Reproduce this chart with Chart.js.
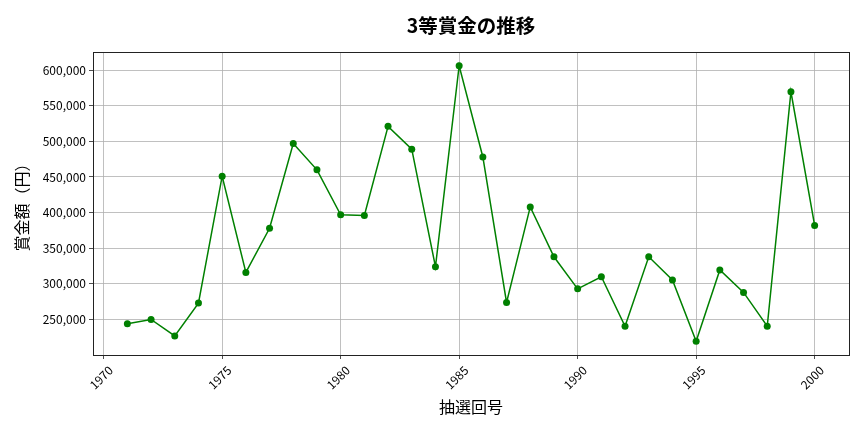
<!DOCTYPE html>
<html>
<head>
<meta charset="utf-8">
<script src="https://cdn.jsdelivr.net/npm/chart.js@4/dist/chart.umd.min.js"></script>
<style>
  html, body { margin: 0; padding: 0; background: #fff; }
  #wrap { width: 864px; height: 432px; }
</style>
</head>
<body>
<div id="wrap"><canvas id="prizeChart" width="864" height="432"></canvas></div>
<script>
// draw numbers (1971-2000) and 3rd prize amounts
const years = [1971, 1972, 1973, 1974, 1975, 1976, 1977, 1978, 1979, 1980,
  1981, 1982, 1983, 1984, 1985, 1986, 1987, 1988, 1989, 1990,
  1991, 1992, 1993, 1994, 1995, 1996, 1997, 1998, 1999, 2000]
const prizes = [244000, 250000, 227000, 273000, 451000, 316000, 378000, 497000, 460000, 397000,
  396000, 521000, 489000, 324000, 606000, 478000, 274000, 408000, 338000, 293000,
  310000, 240500, 338000, 305500, 219500, 319500, 288000, 240500, 569500, 382000]
const xTicks = [1970, 1975, 1980, 1985, 1990, 1995, 2000]
const yTicks = [250000, 300000, 350000, 400000, 450000, 500000, 550000, 600000]

const font = "'Noto Sans CJK JP', 'Noto Sans', sans-serif"

// matplotlib-style frame round the plot area
const frame = {
  id: "frame",
  afterDraw(chart) {
    const { ctx, chartArea: a } = chart
    ctx.save()
    ctx.strokeStyle = "#222"
    ctx.lineWidth = 1
    ctx.strokeRect(a.left + 0.5, a.top + 0.5, a.right - a.left, a.bottom - a.top)
    ctx.restore()
  }
}

const ctx = document.getElementById("prizeChart").getContext("2d")
new Chart(ctx, {
  type: "line",
  data: {
    datasets: [{
      data: years.map((y, i) => ({ x: y, y: prizes[i] })),
      borderColor: "#008000",
      backgroundColor: "#008000",
      borderWidth: 1.5,
      pointRadius: 3.5,
      pointBorderWidth: 0,
      tension: 0
    }]
  },
  options: {
    responsive: false,
    animation: false,
    layout: { padding: { top: 0, left: 0, right: 15, bottom: 0 } },
    plugins: {
      legend: { display: false },
      tooltip: { enabled: false },
      title: {
        display: true,
        fullSize: false,
        text: "3等賞金の推移",
        color: "#000",
        font: { family: font, size: 19.5, weight: "bold" },
        padding: { top: 14, bottom: 14.6 }
      }
    },
    scales: {
      x: {
        type: "linear",
        min: 1969.55,
        max: 2001.45,
        afterBuildTicks: scale => { scale.ticks = xTicks.map(v => ({ value: v })) },
        afterFit: scale => { scale.height = 77 },
        ticks: {
          color: "#000",
          font: { family: font, size: 12 },
          minRotation: 45,
          maxRotation: 45,
          padding: 4,
          labelOffset: 7,
          callback: v => String(v)
        },
        grid: { color: "#b0b0b0", tickColor: "#222", tickLength: 4, lineWidth: 0.8 },
        border: { display: false },
        title: {
          display: true,
          text: "抽選回号",
          color: "#000",
          font: { family: font, size: 16 },
          padding: { top: 4, bottom: 15 }
        }
      },
      y: {
        min: 200200,
        max: 625300,
        afterBuildTicks: scale => { scale.ticks = yTicks.map(v => ({ value: v })) },
        afterFit: scale => { scale.width = 93 },
        ticks: {
          color: "#000",
          font: { family: font, size: 12 },
          padding: 3,
          callback: v => v.toLocaleString("en-US")
        },
        grid: { color: "#b0b0b0", tickColor: "#222", tickLength: 4, lineWidth: 0.8 },
        border: { display: false },
        title: {
          display: true,
          text: "賞金額（円）",
          color: "#000",
          font: { family: font, size: 16 },
          padding: { top: 12, bottom: 4 }
        }
      }
    }
  },
  plugins: [frame]
})
</script>
</body>
</html>
